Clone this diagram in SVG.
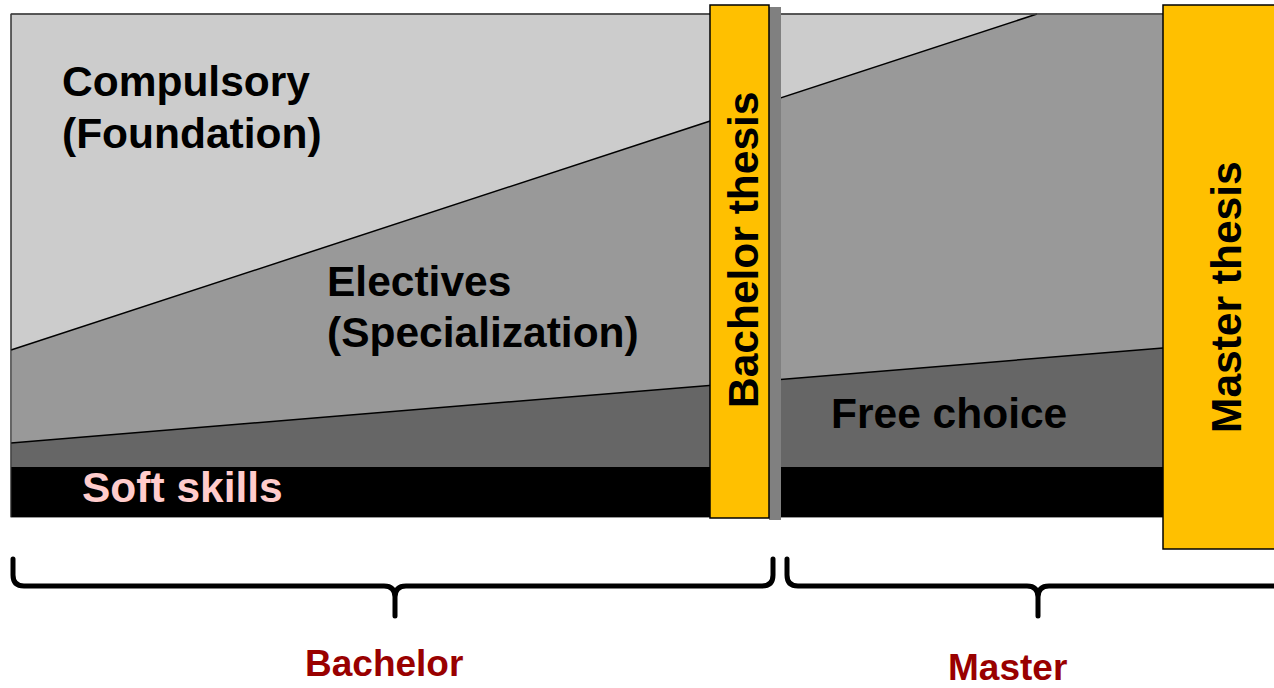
<svg xmlns="http://www.w3.org/2000/svg" width="1274" height="688" viewBox="0 0 1274 688">
<style>
.t{font-family:"Liberation Sans",Arial,sans-serif;font-weight:bold;font-size:42.5px;fill:#000}
.lab{font-family:"Liberation Sans",Arial,sans-serif;font-weight:bold;font-size:37px;fill:#990000}
.edge{fill:none;stroke:#000;stroke-width:1.5}
.thesis{fill:#FFC000;stroke:#000;stroke-width:1.5}
.brace{fill:none;stroke:#000;stroke-width:5;stroke-linecap:round;stroke-linejoin:round}
</style>
<rect width="1274" height="688" fill="#fff"/>
<g id="compulsory">
<rect x="11" y="14" width="1152" height="503" fill="#CCCCCC" stroke="#333" stroke-width="1"/>
<text class="t" x="62" y="96">Compulsory</text>
<text class="t" x="62" y="148">(Foundation)</text>
</g>
<g id="electives">
<polygon points="11,350 1037,14 1163,14 1163,517 11,517" fill="#999999"/>
<text class="t" x="327" y="296">Electives</text>
<text class="t" x="327" y="347">(Specialization)</text>
</g>
<g id="free-choice">
<polygon points="11,443 1163,348 1163,517 11,517" fill="#666666"/>
<text class="t" x="831" y="428">Free choice</text>
</g>
<g id="soft-skills">
<rect x="11" y="467" width="1152" height="50" fill="#000"/>
<text class="t" x="82" y="502" style="fill:#FFCCCC">Soft skills</text>
</g>
<g id="connectors">
<line class="edge" x1="11" y1="350" x2="1037" y2="14"/>
<line class="edge" x1="11" y1="443" x2="1163" y2="348"/>
<line x1="11" y1="14" x2="1163" y2="14" stroke="#444" stroke-width="1.5"/>
<line x1="11" y1="14" x2="11" y2="517" stroke="#333" stroke-width="1"/>
<path class="brace" d="M13,559 L13,575 Q13,586 24,586 L384,586 Q395,586 395,597 L395,616 M395,597 Q395,586 406,586 L762,586 Q773,586 773,575 L773,559"/>
<path class="brace" d="M787,559 L787,575 Q787,586 798,586 L1027,586 Q1038,586 1038,597 L1038,616 M1038,597 Q1038,586 1049,586 L1280,586"/>
</g>
<g id="bachelor-thesis">
<rect x="769" y="7" width="12" height="513" fill="#808080"/>
<rect class="thesis" x="710" y="5" width="59" height="513"/>
<text class="t" transform="translate(758,408) rotate(-90)">Bachelor thesis</text>
</g>
<g id="master-thesis">
<rect class="thesis" x="1163" y="5" width="130" height="544"/>
<text class="t" transform="translate(1241,433) rotate(-90)">Master thesis</text>
</g>
<g id="bachelor-label">
<text class="lab" x="305" y="676">Bachelor</text>
</g>
<g id="master-label">
<text class="lab" x="948" y="680">Master</text>
</g>
</svg>
